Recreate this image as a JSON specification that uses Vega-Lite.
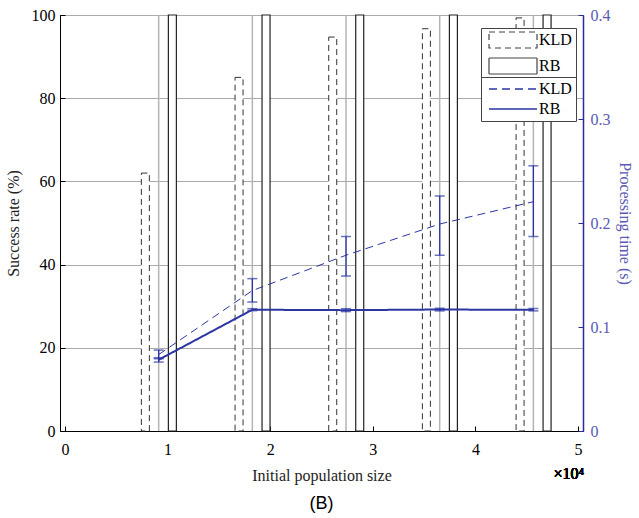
{
  "$schema": "https://vega.github.io/schema/vega-lite/v6.json",
  "width": 523,
  "height": 416,
  "autosize": {"type": "none"},
  "padding": {"left": 60, "top": 15, "right": 56, "bottom": 87},
  "background": "white",
  "title": {"text": "(B)", "orient": "bottom", "font": "Liberation Sans", "fontSize": 18, "fontWeight": "normal", "color": "black", "offset": 12},
  "config": {
    "view": {"stroke": "black", "strokeWidth": 1},
    "axis": {"labelFont": "Liberation Serif", "titleFont": "Liberation Serif", "labelFontSize": 16, "titleFontSize": 16, "titleFontWeight": "normal", "labelColor": "black", "titleColor": "#222", "domainColor": "black", "tickColor": "black"},
    "legend": {"labelFont": "Liberation Serif", "labelFontSize": 16, "labelColor": "black", "strokeColor": "#444", "fillColor": "white", "padding": 4, "rowPadding": 4}
  },
  "datasets": {
    "rate": [
      {"pop": 9130, "method": "KLD", "rate": 62},
      {"pop": 18260, "method": "KLD", "rate": 85},
      {"pop": 27390, "method": "KLD", "rate": 94.7},
      {"pop": 36520, "method": "KLD", "rate": 96.7},
      {"pop": 45650, "method": "KLD", "rate": 99.3},
      {"pop": 9130, "method": "RB", "rate": 100},
      {"pop": 18260, "method": "RB", "rate": 100},
      {"pop": 27390, "method": "RB", "rate": 100},
      {"pop": 36520, "method": "RB", "rate": 100},
      {"pop": 45650, "method": "RB", "rate": 100}
    ],
    "time": [
      {"pop": 9130, "method": "KLD", "mean": 0.0735, "lo": 0.0695, "hi": 0.0778},
      {"pop": 18260, "method": "KLD", "mean": 0.135, "lo": 0.124, "hi": 0.1465},
      {"pop": 27390, "method": "KLD", "mean": 0.169, "lo": 0.149, "hi": 0.187},
      {"pop": 36520, "method": "KLD", "mean": 0.199, "lo": 0.169, "hi": 0.226},
      {"pop": 45650, "method": "KLD", "mean": 0.2205, "lo": 0.187, "hi": 0.255},
      {"pop": 9130, "method": "RB", "mean": 0.0685, "lo": 0.0663, "hi": 0.0705},
      {"pop": 18260, "method": "RB", "mean": 0.1166, "lo": 0.1157, "hi": 0.1176},
      {"pop": 27390, "method": "RB", "mean": 0.1162, "lo": 0.1148, "hi": 0.1176},
      {"pop": 36520, "method": "RB", "mean": 0.1168, "lo": 0.1155, "hi": 0.118},
      {"pop": 45650, "method": "RB", "mean": 0.1165, "lo": 0.1155, "hi": 0.1178}
    ]
  },
  "layer": [
    {
      "data": {"name": "rate"},
      "layer": [
        {
          "transform": [{"filter": "datum.method === 'RB'"}],
          "mark": {"type": "rule", "color": "#b4b4b4", "strokeWidth": 1.5},
          "encoding": {
            "x": {"field": "pop", "type": "quantitative", "scale": {"domain": [0, 50000], "nice": false},
              "axis": {"values": [0, 10000, 20000, 30000, 40000, 50000], "labelExpr": "datum.value / 10000", "title": "Initial population size", "grid": false, "tickSize": -5, "labelPadding": 15, "titlePadding": 10, "labelFlush": false}}
          }
        },
        {
          "transform": [{"filter": "datum.method === 'KLD'"}],
          "mark": {"type": "bar", "width": 8, "xOffset": -13.3, "fill": "white", "stroke": "#333", "strokeWidth": 1, "strokeDash": [6, 4]},
          "encoding": {
            "x": {"field": "pop", "type": "quantitative"},
            "y": {"field": "rate", "type": "quantitative", "scale": {"domain": [0, 100], "nice": false},
              "axis": {"values": [0, 20, 40, 60, 80, 100], "title": "Success rate (%)", "grid": true, "gridColor": "#aaaaaa", "gridWidth": 1.2, "tickSize": -5, "labelPadding": 10, "titlePadding": 10, "labelFlush": false}}
          }
        },
        {
          "transform": [{"filter": "datum.method === 'RB'"}],
          "mark": {"type": "bar", "width": 8, "xOffset": 13.7, "fill": "white", "stroke": "#222", "strokeWidth": 1.2},
          "encoding": {
            "x": {"field": "pop", "type": "quantitative"},
            "y": {"field": "rate", "type": "quantitative"}
          }
        },
        {
          "transform": [{"filter": "false"}],
          "mark": {"type": "rule", "color": "#444", "strokeWidth": 1.2},
          "encoding": {
            "x": {"field": "pop", "type": "quantitative"},
            "strokeDash": {"field": "method", "type": "nominal", "scale": {"domain": ["KLD", "RB"], "range": [[6, 4], [1, 0]]},
              "legend": {"title": null, "orient": "none", "legendX": 421, "legendY": 13, "symbolType": "M-1,-2H11V2H-1Z", "symbolSize": 64, "labelOffset": 38, "symbolStrokeColor": "#444", "symbolStrokeWidth": 1.2}}
          }
        }
      ]
    },
    {
      "data": {"name": "time"},
      "layer": [
        {
          "mark": {"type": "line", "color": "#2b36a3"},
          "encoding": {
            "x": {"field": "pop", "type": "quantitative"},
            "y": {"field": "mean", "type": "quantitative", "scale": {"domain": [0, 0.4], "nice": false},
              "axis": {"orient": "right", "values": [0, 0.1, 0.2, 0.3, 0.4], "format": ".1~f", "title": "Processing time (s)", "titleAngle": 90, "grid": false, "domainColor": "#2a2a9a", "domainWidth": 1.5, "tickColor": "#2a2a9a", "tickSize": -5, "labelPadding": 12, "labelColor": "#5a5ab4", "titleColor": "#5a5ab4", "titlePadding": 6, "labelFlush": false}},
            "strokeDash": {"field": "method", "type": "nominal", "scale": {"domain": ["KLD", "RB"], "range": [[8, 5], [1, 0]]},
              "legend": {"title": null, "orient": "none", "legendX": 421, "legendY": 62, "symbolType": "M-1,0H11", "symbolSize": 64, "labelOffset": 38, "symbolStrokeColor": "#2b36a3", "symbolStrokeWidth": 1.5}},
            "strokeWidth": {"field": "method", "type": "nominal", "scale": {"domain": ["KLD", "RB"], "range": [1, 2]}, "legend": null}
          }
        },
        {
          "mark": {"type": "rule", "color": "#2b36a3", "strokeWidth": 1.3},
          "encoding": {
            "x": {"field": "pop", "type": "quantitative"},
            "y": {"field": "lo", "type": "quantitative"},
            "y2": {"field": "hi"}
          }
        },
        {
          "mark": {"type": "tick", "orient": "horizontal", "color": "#2b36a3", "size": 10, "thickness": 1.5},
          "encoding": {
            "x": {"field": "pop", "type": "quantitative"},
            "y": {"field": "lo", "type": "quantitative"}
          }
        },
        {
          "mark": {"type": "tick", "orient": "horizontal", "color": "#2b36a3", "size": 10, "thickness": 1.5},
          "encoding": {
            "x": {"field": "pop", "type": "quantitative"},
            "y": {"field": "hi", "type": "quantitative"}
          }
        },
        {
          "mark": {"type": "text", "text": "×10⁴", "font": "Liberation Serif, DejaVu Serif", "fontSize": 16, "fontWeight": "normal", "align": "right", "baseline": "middle", "dx": 6, "dy": 43, "color": "black"},
          "encoding": {
            "x": {"datum": 50000, "type": "quantitative"},
            "y": {"datum": 0, "type": "quantitative"}
          }
        }
      ]
    }
  ],
  "resolve": {"scale": {"y": "independent", "strokeDash": "independent"}, "legend": {"strokeDash": "independent"}}
}
